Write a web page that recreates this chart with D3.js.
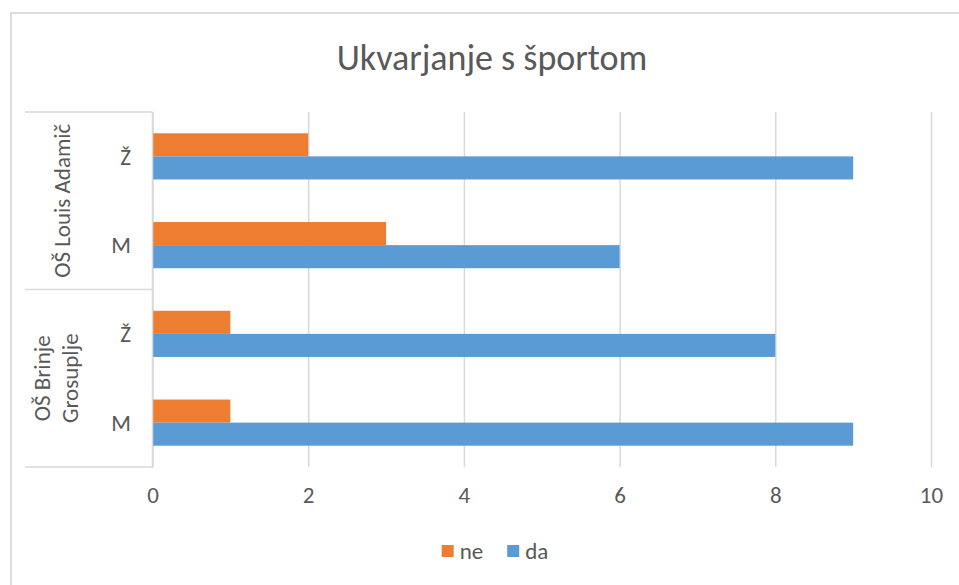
<!DOCTYPE html>
<html>
<head>
<meta charset="utf-8">
<script src="https://cdn.jsdelivr.net/npm/d3@7"></script>
<style>
  html, body { margin: 0; padding: 0; background: #ffffff; }
  svg { display: block; }
  text { font-family: Calibri, Carlito, Lato, "Open Sans", sans-serif; fill: #595959; }
</style>
</head>
<body>
<svg id="chart" width="959" height="585"></svg>
<script>
// ---- data ----
const chartTitle = "Ukvarjanje s športom";
const schools = ["OŠ Brinje Grosuplje", "OŠ Louis Adamič"];
const genders = ["M", "Ž"];
// values in order: Brinje M, Brinje Ž, Louis M, Louis Ž
const neValues = [1, 1, 3, 2];
const daValues = [9, 8, 6, 9];
const seriesNames = ["ne", "da"];
const seriesColors = ["#ED7D31", "#5B9BD5"];
const xTickValues = [0, 2, 4, 6, 8, 10];

// ---- build rows ----
const rows = [];
schools.forEach((s, si) => {
  genders.forEach((g, gi) => {
    const i = si * genders.length + gi;
    rows.push({ key: s + "|" + g, school: s, gender: g, ne: neValues[i], da: daValues[i] });
  });
});

const svg = d3.select("#chart");
const W = 959, H = 585;
const plot = { left: 152.5, right: 931, top: 112, bottom: 467 };
const gridColor = "#d9d9d9";
const fs = 23;

svg.append("rect").attr("width", W).attr("height", H).attr("fill", "#fff");
// outer chart border
svg.append("rect").attr("x", 11).attr("y", 13).attr("width", 1000).attr("height", 700)
  .attr("fill", "none").attr("stroke", "#d4d4d4").attr("stroke-width", 1.6);

// title
svg.append("text").attr("x", 492).attr("y", 70).attr("text-anchor", "middle")
  .style("font-size", "36px").text(chartTitle);

// scales
const x = d3.scaleLinear().domain([0, 10]).range([plot.left, plot.right]);
const y = d3.scaleBand().domain(rows.map(d => d.key).reverse())
  .range([plot.top, plot.bottom]).paddingInner(0.48).paddingOuter(0.24);
const ySub = d3.scaleBand().domain(seriesNames).range([0, y.bandwidth()]).padding(0);
const color = d3.scaleOrdinal().domain(seriesNames).range(seriesColors);

// gridlines
const xAxis = d3.axisBottom(x).tickValues(xTickValues).tickSize(-(plot.bottom - plot.top)).tickPadding(22);
const gx = svg.append("g").attr("transform", `translate(0,${plot.bottom})`).call(xAxis);
gx.select(".domain").remove();
gx.selectAll(".tick line").attr("stroke", gridColor).attr("stroke-width", 1.5);
gx.selectAll(".tick text").style("font-size", fs + "px").attr("fill", "#595959").attr("dy", "0.62em");

// bars
const groups = svg.append("g").selectAll("g").data(rows).join("g")
  .attr("transform", d => `translate(0,${y(d.key)})`);
groups.selectAll("rect").data(d => seriesNames.map(s => ({ s, v: d[s] }))).join("rect")
  .attr("x", x(0) + 0.5)
  .attr("y", d => ySub(d.s))
  .attr("width", d => x(d.v) - x(0) - 0.5)
  .attr("height", ySub.bandwidth())
  .attr("fill", d => color(d.s));

// category axis line
svg.append("line").attr("x1", plot.left).attr("x2", plot.left)
  .attr("y1", plot.top).attr("y2", plot.bottom + 1)
  .attr("stroke", gridColor).attr("stroke-width", 1.5);

// multi-level category separators
const step = y.step();
const boxLeft = 25;
const groupBounds = schools.map(s => {
  const keys = rows.filter(r => r.school === s).map(r => r.key);
  const ys = keys.map(k => y(k));
  const top = d3.min(ys) - y.paddingInner() * step / 2;
  const bot = d3.max(ys) + y.bandwidth() + y.paddingInner() * step / 2;
  return { school: s, top, bot };
});
const sepYs = new Set();
groupBounds.forEach(b => { sepYs.add(Math.round(b.top * 2) / 2); sepYs.add(Math.round(b.bot * 2) / 2); });
svg.append("g").selectAll("line").data([...sepYs]).join("line")
  .attr("x1", boxLeft).attr("x2", plot.left).attr("y1", d => d).attr("y2", d => d)
  .attr("stroke", gridColor).attr("stroke-width", 1.5);

// inner level labels (gender)
svg.append("g").selectAll("text").data(rows).join("text")
  .attr("x", 131).attr("y", d => y(d.key) + y.bandwidth() / 2)
  .attr("dy", "0.36em").attr("text-anchor", "end")
  .style("font-size", fs + "px").text(d => d.gender);

// outer level labels (school), rotated, wrapped to fit
const lineGap = 27.5;
groupBounds.forEach(b => {
  const cy = (b.top + b.bot) / 2;
  const maxW = (b.bot - b.top) * 0.94;
  const t = svg.append("text").style("font-size", fs + "px").attr("text-anchor", "middle");
  const words = b.school.split(" ");
  const lines = [];
  let cur = [];
  const probe = svg.append("text").style("font-size", fs + "px");
  words.forEach(w => {
    const test = cur.concat([w]).join(" ");
    probe.text(test);
    if (probe.node().getComputedTextLength() > maxW && cur.length) {
      lines.push(cur.join(" "));
      cur = [w];
    } else cur.push(w);
  });
  lines.push(cur.join(" "));
  probe.remove();
  const n = lines.length;
  const baseX = 70 - (n - 1) * 20;
  t.attr("transform", `translate(0,${cy}) rotate(-90)`);
  lines.forEach((ln, i) => {
    t.append("tspan").attr("x", 0).attr("y", baseX + i * lineGap).text(ln);
  });
});

// legend
const legend = svg.append("g");
let lx = 0;
seriesNames.forEach((s, i) => {
  const g = legend.append("g").attr("transform", `translate(${lx},0)`);
  g.append("rect").attr("x", 0).attr("y", -6).attr("width", 12).attr("height", 12).attr("fill", seriesColors[i]);
  const tx = g.append("text").attr("x", 18).attr("y", 0).attr("dy", "0.34em").style("font-size", fs + "px").text(s);
  lx += 18 + tx.node().getComputedTextLength() + 24;
});
const legendW = lx - 24;
legend.attr("transform", `translate(${495 - legendW / 2},551)`);
</script>
</body>
</html>
